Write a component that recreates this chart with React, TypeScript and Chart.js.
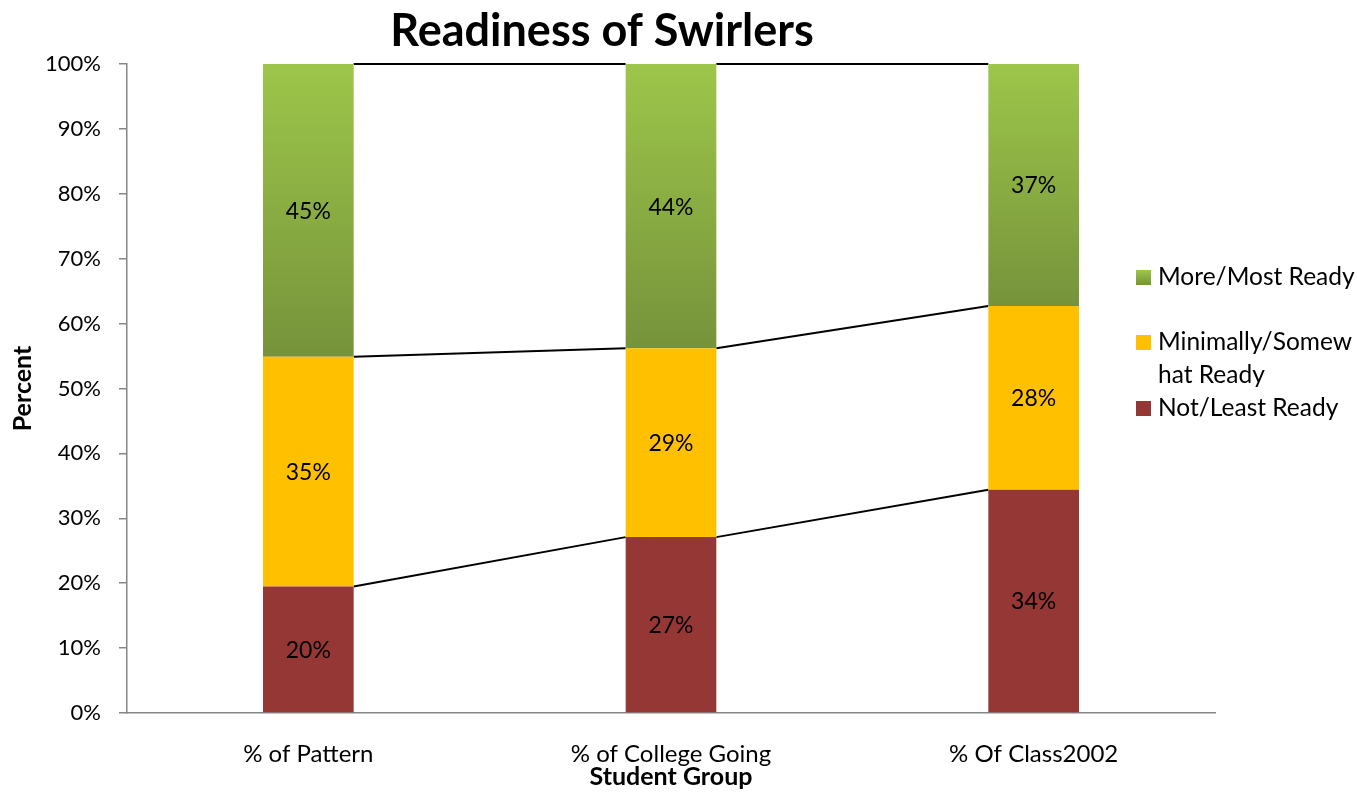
import { useEffect, useRef } from 'react';
import { Chart, registerables } from 'chart.js';

Chart.register(...registerables);

const chartTitle = 'Readiness of Swirlers';
const categories = ['% of Pattern', '% of College Going', '% Of Class2002'];
const seriesNames = ['Not/Least Ready', 'Minimally/Somewhat Ready', 'More/Most Ready'];
const notLeastReady = [19.5, 27.1, 34.4];
const minimallyReady = [35.4, 29.1, 28.3];
const moreMostReady = [45.1, 43.8, 37.3];
const yAxisTitle = 'Percent';
const xAxisTitle = 'Student Group';
// legend text as wrapped in the reference, top to bottom
const legendLines = [['More/Most Ready'], ['Minimally/Somew', 'hat Ready'], ['Not/Least Ready']];

const FONT = 'Lato, "Open Sans", sans-serif';
const RED = '#953735';
const YELLOW = '#FFC000';
const GREEN_TOP = '#9DC64A';
const GREEN_BOTTOM = '#76933B';
const AXIS = '#868686';

const greenFill = (ctx: any) => {
  const chart = ctx.chart;
  const { chartArea, scales } = chart;
  if (!chartArea || ctx.type !== 'data') return GREEN_BOTTOM;
  const i = ctx.dataIndex;
  const base = notLeastReady[i] + minimallyReady[i];
  const top = base + moreMostReady[i];
  const y0 = scales.y.getPixelForValue(top);
  const y1 = scales.y.getPixelForValue(base);
  const g = chart.ctx.createLinearGradient(0, y0, 0, y1);
  g.addColorStop(0, GREEN_TOP);
  g.addColorStop(1, GREEN_BOTTOM);
  return g;
};

const seriesLinesPlugin = {
  id: 'seriesLines',
  beforeDatasetsDraw(chart: any) {
    const ctx = chart.ctx;
    ctx.save();
    ctx.strokeStyle = '#000';
    ctx.lineWidth = 2;
    chart.data.datasets.forEach((_: any, d: number) => {
      const meta = chart.getDatasetMeta(d);
      for (let i = 0; i < meta.data.length - 1; i++) {
        const a = meta.data[i];
        const b = meta.data[i + 1];
        ctx.beginPath();
        ctx.moveTo(a.x + a.width / 2, a.y);
        ctx.lineTo(b.x - b.width / 2, b.y);
        ctx.stroke();
      }
    });
    ctx.restore();
  },
};

const barLabelsPlugin = {
  id: 'barLabels',
  afterDatasetsDraw(chart: any) {
    const ctx = chart.ctx;
    ctx.save();
    ctx.font = `23px ${FONT}`;
    ctx.fillStyle = '#000';
    ctx.textAlign = 'center';
    ctx.textBaseline = 'middle';
    chart.data.datasets.forEach((ds: any, d: number) => {
      const meta = chart.getDatasetMeta(d);
      meta.data.forEach((el: any, i: number) => {
        const v = ds.data[i];
        ctx.fillText(`${Math.round(v)}%`, el.x, (el.y + el.base) / 2 + 1);
      });
    });
    ctx.restore();
  },
};

const decorPlugin = {
  id: 'decor',
  afterDraw(chart: any) {
    const ctx = chart.ctx;
    ctx.save();
    // title
    ctx.font = `bold 45px ${FONT}`;
    ctx.fillStyle = '#000';
    ctx.textAlign = 'center';
    ctx.textBaseline = 'alphabetic';
    ctx.fillText(chartTitle, 602, 46);
    // legend
    const baselines = [[285], [350, 383], [416]];
    const solid = [null, YELLOW, RED];
    ctx.font = `24.5px ${FONT}`;
    ctx.textAlign = 'left';
    legendLines.forEach((lines, k) => {
      const b0 = baselines[k][0];
      let fill: any = solid[k];
      if (k === 0) {
        const g = ctx.createLinearGradient(0, b0 - 15, 0, b0);
        g.addColorStop(0, GREEN_TOP);
        g.addColorStop(1, GREEN_BOTTOM);
        fill = g;
      }
      ctx.fillStyle = fill;
      ctx.fillRect(1136, b0 - 15, 15, 15);
      ctx.fillStyle = '#000';
      lines.forEach((t, j) => ctx.fillText(t, 1158, baselines[k][j]));
    });
    ctx.restore();
  },
};

export default function App() {
  const ref = useRef<HTMLCanvasElement | null>(null);
  useEffect(() => {
    document.body.style.margin = '0';
    const canvas = ref.current;
    if (!canvas) return;
    const chart = new Chart(canvas, {
      type: 'bar',
      data: {
        labels: categories,
        datasets: [
          { label: seriesNames[0], data: notLeastReady, backgroundColor: RED },
          { label: seriesNames[1], data: minimallyReady, backgroundColor: YELLOW },
          { label: seriesNames[2], data: moreMostReady, backgroundColor: greenFill },
        ],
      },
      options: {
        responsive: false,
        animation: false,
        layout: { padding: { top: 64, right: 142, left: 0, bottom: 0 } },
        datasets: { bar: { barPercentage: 0.25, categoryPercentage: 1, borderWidth: 0 } },
        plugins: { legend: { display: false }, tooltip: { enabled: false }, title: { display: false } },
        scales: {
          x: {
            stacked: true,
            grid: { display: false, drawTicks: false },
            border: { display: true, color: AXIS, width: 1.5 },
            ticks: { color: '#000', font: { family: FONT, size: 24 }, padding: 27 },
            title: {
              display: true,
              text: xAxisTitle,
              color: '#000',
              font: { family: FONT, size: 25, weight: 'bold' },
              padding: { top: 0, bottom: 0 },
            },
            afterFit: (s: any) => { s.height = 79; },
          },
          y: {
            stacked: true,
            min: 0,
            max: 100,
            ticks: {
              stepSize: 10,
              color: '#000',
              font: { family: FONT, size: 22 },
              padding: 18,
              callback: (v: any) => `${v}%`,
            },
            grid: { drawOnChartArea: false, tickLength: 8, color: AXIS, lineWidth: 1.5 },
            border: { display: true, color: AXIS, width: 1.5 },
            title: {
              display: true,
              text: yAxisTitle,
              color: '#000',
              font: { family: FONT, size: 25, weight: 'bold' },
              padding: { top: 8, bottom: 0 },
            },
            afterFit: (s: any) => { s.width = 127; },
          },
        },
      },
      plugins: [seriesLinesPlugin, barLabelsPlugin, decorPlugin],
    } as any);
    return () => chart.destroy();
  }, []);
  return <canvas ref={ref} width={1357} height={792} style={{ display: 'block' }} />;
}
